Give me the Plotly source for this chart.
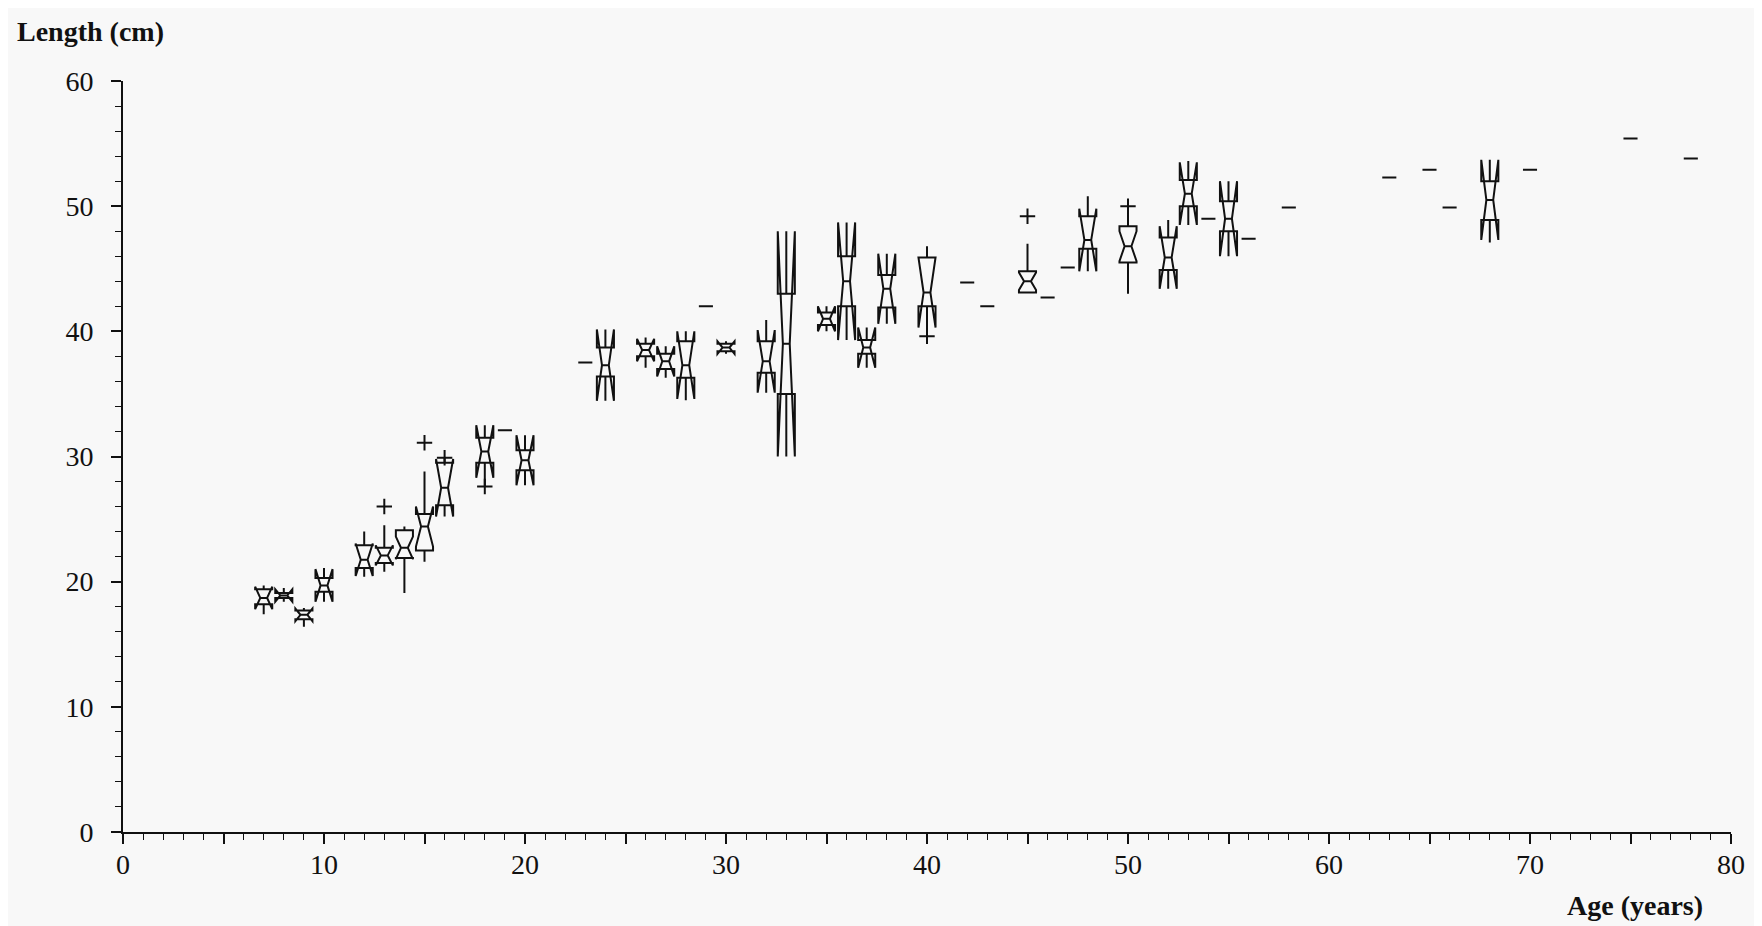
import plotly.graph_objects as go

# ---- data (age in years, length in cm) ----
ages = [7, 8, 9, 10, 12, 13, 14, 15, 16, 18, 20, 24, 26, 27, 28, 30, 32, 33, 35, 36, 37, 38, 40, 45, 48, 50, 52, 53, 55, 68]
q1 = [18.2, 18.7, 17.0, 19.2, 21.1, 21.5, 21.9, 22.5, 26.1, 29.5, 28.9, 36.4, 38.0, 37.0, 36.3, 38.4, 36.7, 35.0, 40.5, 42.0, 38.2, 41.9, 42.0, 43.1, 46.6, 45.5, 44.9, 50.0, 48.0, 48.9]
median = [18.7, 18.9, 17.35, 19.7, 21.75, 22.1, 22.7, 24.4, 27.5, 30.4, 29.7, 37.3, 38.5, 37.6, 37.3, 38.7, 37.6, 39.0, 41.0, 44.0, 38.7, 43.4, 43.1, 44.0, 47.3, 46.8, 45.9, 51.0, 49.0, 50.5]
q3 = [19.4, 19.1, 17.7, 20.3, 22.9, 22.7, 24.1, 25.4, 29.5, 31.5, 30.5, 38.7, 39.0, 38.2, 39.2, 39.0, 39.2, 43.0, 41.5, 46.0, 39.3, 44.5, 45.9, 44.8, 49.2, 48.4, 47.5, 52.1, 50.4, 52.0]
lower = [17.4, 18.4, 16.4, 18.4, 20.4, 20.8, 19.1, 21.6, 26.1, 27.6, 27.7, 34.5, 37.1, 36.3, 34.5, 38.2, 35.1, 30.0, 40.0, 39.3, 37.1, 40.7, 39.6, 43.1, 44.8, 43.0, 43.4, 48.5, 46.0, 47.1]
upper = [19.7, 19.5, 17.9, 21.1, 24.0, 24.5, 24.4, 28.8, 29.9, 32.5, 31.7, 40.1, 39.5, 38.8, 39.9, 39.2, 40.9, 48.0, 42.0, 48.7, 40.3, 46.0, 46.8, 47.0, 50.8, 50.0, 48.9, 53.6, 52.0, 53.7]
notch = [0.9, 0.5, 0.5, 1.3, 1.3, 0.8, 0.9, 1.6, 2.3, 2.1, 2.0, 2.85, 0.9, 1.2, 2.7, 0.5, 2.5, 9.0, 1.0, 4.7, 1.6, 2.8, 2.8, 0.7, 2.5, 1.2, 2.5, 2.5, 3.0, 3.2]

single_ages = [19, 23, 29, 42, 43, 46, 47, 54, 56, 58, 63, 65, 66, 70, 75, 78]
single_vals = [32.1, 37.5, 42.0, 43.9, 42.0, 42.7, 45.1, 49.0, 47.4, 49.9, 52.3, 52.9, 49.9, 52.9, 55.4, 53.8]

outlier_ages = [13, 15, 16, 18, 40, 45, 50]
outlier_vals = [26.0, 31.1, 29.9, 27.6, 39.6, 49.2, 50.0]

x_ticks = list(range(0, 81, 5))
x_labels = [str(v) if v % 10 == 0 else "" for v in x_ticks]
y_ticks = list(range(0, 61, 10))

BLACK = "#111111"
BG = "#f8f8f8"
FONT = "Liberation Serif, DejaVu Serif, serif"

fig = go.Figure()

fig.add_trace(go.Box(
    x=ages, q1=q1, median=median, q3=q3,
    lowerfence=lower, upperfence=upper, notchspan=notch,
    notched=True, notchwidth=0.3, width=0.85,
    boxpoints=False,
    line=dict(color=BLACK, width=2),
    fillcolor="rgba(0,0,0,0)",
    whiskerwidth=0, showlegend=False,
))

fig.add_trace(go.Box(
    x=single_ages, q1=single_vals, median=single_vals, q3=single_vals,
    lowerfence=single_vals, upperfence=single_vals,
    width=0.7, boxpoints=False,
    line=dict(color=BLACK, width=2),
    fillcolor="rgba(0,0,0,0)", showlegend=False,
))

fig.add_trace(go.Scatter(
    x=outlier_ages, y=outlier_vals, mode="markers",
    marker=dict(symbol="cross-thin", size=11, line=dict(color=BLACK, width=2)),
    showlegend=False,
))

fig.update_layout(
    width=1762, height=926,
    margin=dict(l=115, r=39, t=73, b=102),
    paper_bgcolor=BG, plot_bgcolor=BG,
    font=dict(family=FONT, color=BLACK, size=28),
    boxmode="overlay",
    annotations=[
        dict(text="<b>Length (cm)</b>", xref="paper", yref="paper",
             x=-108 / 1608, y=1 + 50 / 751, xanchor="left", yanchor="middle",
             showarrow=False, font=dict(size=28, family=FONT)),
        dict(text="<b>Age (years)</b>", xref="paper", yref="paper",
             x=1 - 26 / 1608, y=-73 / 751, xanchor="right", yanchor="middle",
             showarrow=False, font=dict(size=28, family=FONT)),
    ],
)

fig.update_xaxes(
    range=[0, 80], tickmode="array", tickvals=x_ticks, ticktext=x_labels,
    ticks="outside", ticklen=10, tickwidth=1.6, tickcolor=BLACK,
    minor=dict(dtick=1, ticklen=6, ticks="outside", tickwidth=1.3, tickcolor=BLACK),
    showline=True, linecolor=BLACK, linewidth=1.8, ticklabelstandoff=-4,
    showgrid=False, zeroline=False, tickfont=dict(size=28, family=FONT),
)
fig.update_yaxes(
    range=[0, 60], tickmode="array", tickvals=y_ticks,
    ticks="outside", ticklen=10, tickwidth=1.6, tickcolor=BLACK,
    minor=dict(dtick=2, ticklen=6, ticks="outside", tickwidth=1.3, tickcolor=BLACK),
    showline=True, linecolor=BLACK, linewidth=1.8, ticklabelstandoff=12,
    showgrid=False, zeroline=False, tickfont=dict(size=28, family=FONT),
)

fig.write_html("out.html")
